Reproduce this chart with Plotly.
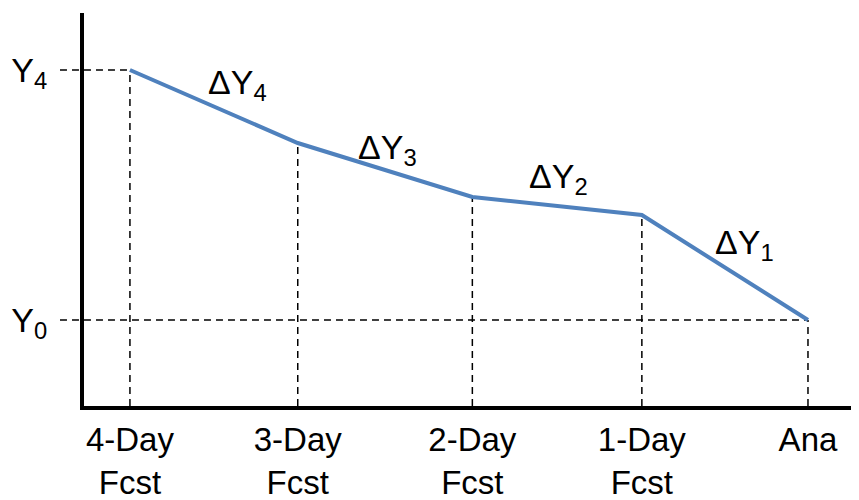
import plotly.graph_objects as go

# forecast lead times along the bottom
categories = ["4-Day<br>Fcst", "3-Day<br>Fcst", "2-Day<br>Fcst", "1-Day<br>Fcst", "Ana"]
x_pos = [0, 0.99, 2.02, 3.02, 4]
# value of Y at each lead time (arbitrary units)
y_vals = [336, 263, 209, 191, 86]
# labels of the changes between lead times
delta_labels = ["ΔY<sub>4</sub>", "ΔY<sub>3</sub>", "ΔY<sub>2</sub>", "ΔY<sub>1</sub>"]
y_tick_labels = ["Y<sub>0</sub>", "Y<sub>4</sub>"]

line_color = "rgb(79, 129, 189)"
family = "Arial, Liberation Sans, sans-serif"
font = dict(family=family, size=34, color="black")
xfont = dict(family=family, size=33, color="black")

x_range = [-0.271, 4.301]
y_range = [0, 393]


def paper_x(x):
    return (x - x_range[0]) / (x_range[1] - x_range[0])


fig = go.Figure()

fig.add_trace(go.Scatter(
    x=x_pos,
    y=y_vals,
    mode="lines",
    line=dict(color=line_color, width=4),
    hoverinfo="skip",
))

shapes = []
dash = "7px,5px"
# vertical drop lines from each point to the axis
for x, y in zip(x_pos, y_vals):
    shapes.append(dict(type="line", xref="x", yref="y", x0=x, x1=x, y0=0, y1=y,
                       line=dict(color="black", width=1.5, dash=dash), layer="below"))
# horizontal guides for Y4 and Y0
for x, y in [(x_pos[0], y_vals[0]), (x_pos[-1], y_vals[-1])]:
    shapes.append(dict(type="line", xref="paper", yref="y", x0=-0.031, x1=paper_x(x), y0=y, y1=y,
                       line=dict(color="black", width=1.5, dash=dash), layer="below"))

# delta labels placed near each segment midpoint
shifts = [(24, 22), (2, 21), (1, 28), (20, 23)]
annotations = []
for i, lab in enumerate(delta_labels):
    mx = (x_pos[i] + x_pos[i + 1]) / 2
    my = (y_vals[i] + y_vals[i + 1]) / 2
    annotations.append(dict(x=mx, y=my, xref="x", yref="y", text=lab, showarrow=False,
                            xshift=shifts[i][0], yshift=shifts[i][1], font=font))

# the page adds an 8px body margin, so the figure is 8px smaller each way
fig.update_layout(
    width=851,
    height=492,
    margin=dict(l=76, r=0, t=5, b=94),
    paper_bgcolor="white",
    plot_bgcolor="white",
    showlegend=False,
    shapes=shapes,
    annotations=annotations,
    font=font,
    xaxis=dict(
        range=x_range,
        tickvals=x_pos,
        ticktext=categories,
        showgrid=False,
        zeroline=False,
        showline=True,
        linecolor="black",
        linewidth=4,
        ticks="",
        ticklabelstandoff=1,
        tickfont=xfont,
        automargin=False,
    ),
    yaxis=dict(
        range=y_range,
        tickvals=[y_vals[-1], y_vals[0]],
        ticktext=y_tick_labels,
        showgrid=False,
        zeroline=False,
        showline=True,
        linecolor="black",
        linewidth=4,
        ticks="",
        ticklabelstandoff=26,
        tickfont=font,
        automargin=False,
    ),
)

fig.write_html("out.html")
